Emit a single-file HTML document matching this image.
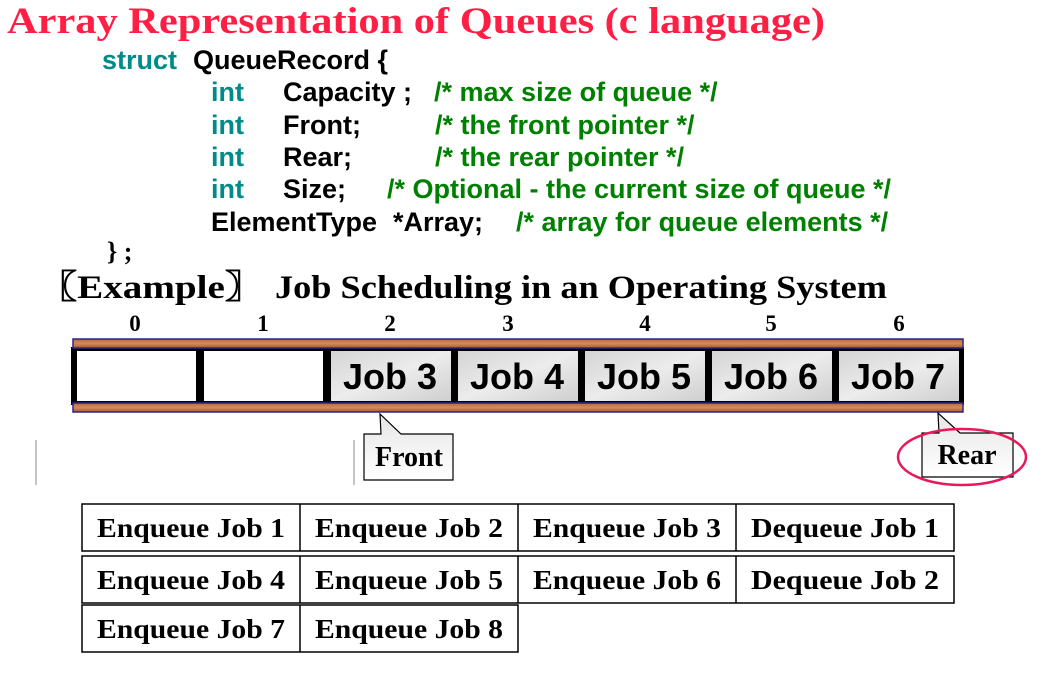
<!DOCTYPE html>
<html><head><meta charset="utf-8"><style>
html,body{margin:0;padding:0;background:#fff;}
svg{display:block}
.s{font-family:"Liberation Sans",Arial,sans-serif;font-weight:bold;}
.r{font-family:"Liberation Serif",serif;font-weight:bold}
.t{fill:#008b8b}.g{fill:#008000}
</style></head><body>
<svg width="1048" height="688" viewBox="0 0 1048 688" xmlns="http://www.w3.org/2000/svg">
<defs>
<linearGradient id="wood" x1="0" y1="0" x2="0" y2="1">
<stop offset="0" stop-color="#b8653a"/><stop offset="0.5" stop-color="#d98a5a"/><stop offset="1" stop-color="#a85530"/></linearGradient>
<linearGradient id="marb" x1="0" y1="0" x2="1" y2="1">
<stop offset="0" stop-color="#d4d4d4"/><stop offset="0.5" stop-color="#ececec"/><stop offset="1" stop-color="#cfcfcf"/></linearGradient>
<linearGradient id="call" x1="0" y1="0" x2="0" y2="1">
<stop offset="0" stop-color="#e6e6e6"/><stop offset="1" stop-color="#ffffff"/></linearGradient>
</defs>
<text x="7" y="33" class="r" font-size="37" fill="#ff1f44" textLength="818" lengthAdjust="spacingAndGlyphs">Array Representation of Queues (c language)</text>
<g class="s" style="font-size:27px">
<text x="102" y="69" class="t">struct</text><text x="193" y="69">QueueRecord {</text>
<text x="211" y="101" class="t">int</text><text x="283" y="101">Capacity ;</text><text x="434" y="101" class="g">/* max size of queue */</text>
<text x="211" y="134" class="t">int</text><text x="283" y="134">Front;</text><text x="435" y="134" class="g">/* the front pointer */</text>
<text x="211" y="166" class="t">int</text><text x="283" y="166">Rear;</text><text x="435" y="166" class="g">/* the rear pointer */</text>
<text x="211" y="198" class="t">int</text><text x="283" y="198">Size;</text><text x="387" y="198" class="g">/* Optional - the current size of queue */</text>
<text x="211" y="231">ElementType</text><text x="393" y="231">*Array;</text><text x="516" y="231" class="g">/* array for queue elements */</text>
</g>
<text x="107" y="260" class="r" font-size="26">} ;</text>
<text x="38" y="298" class="r" font-size="33" textLength="226" lengthAdjust="spacingAndGlyphs">〖Example〗</text>
<text x="275" y="298" class="r" font-size="33" textLength="612" lengthAdjust="spacingAndGlyphs">Job Scheduling in an Operating System</text>
<g class="r" font-size="23" text-anchor="middle">
<text x="135" y="331">0</text><text x="263" y="331">1</text><text x="390" y="331">2</text><text x="508" y="331">3</text><text x="645" y="331">4</text><text x="771" y="331">5</text><text x="899" y="331">6</text>
</g>
<rect x="71" y="347" width="893" height="58" fill="#000"/>
<rect x="77" y="351" width="119" height="50" fill="#fff"/>
<rect x="204" y="351" width="119" height="50" fill="#fff"/>
<g fill="url(#marb)">
<rect x="331" y="351" width="120" height="50"/><rect x="458" y="351" width="120" height="50"/><rect x="585" y="351" width="120" height="50"/><rect x="712" y="351" width="120" height="50"/><rect x="839" y="351" width="120" height="50"/>
</g>
<g class="s" style="font-size:36px" text-anchor="middle">
<text x="390" y="389">Job 3</text><text x="517" y="389">Job 4</text><text x="644" y="389">Job 5</text><text x="771" y="389">Job 6</text><text x="898" y="389">Job 7</text>
</g>
<rect x="73" y="339" width="890" height="9" fill="url(#wood)" stroke="#2a2a80" stroke-width="1.5"/>
<rect x="73" y="403" width="890" height="9" fill="url(#wood)" stroke="#2a2a80" stroke-width="1.5"/>
<line x1="354" y1="440" x2="354" y2="485" stroke="#888" stroke-width="1"/>
<line x1="36" y1="440" x2="36" y2="485" stroke="#888" stroke-width="1"/>
<path d="M364 434 H381 L380 414 L401 434 H453 V480 H364 Z" fill="url(#call)" stroke="#000" stroke-width="1.2"/>
<text x="409" y="466" class="r" font-size="28" text-anchor="middle">Front</text>
<path d="M922 433 H939 L938 413 L960 433 H1013 V477 H922 Z" fill="url(#call)" stroke="#000" stroke-width="1.2"/>
<text x="967" y="464" class="r" font-size="28" text-anchor="middle">Rear</text>
<ellipse cx="962" cy="457" rx="64" ry="28" fill="none" stroke="#e8195a" stroke-width="2.5"/>
<g fill="none" stroke="#000" stroke-width="1.5">
<rect x="82" y="504" width="872" height="47"/>
<rect x="82" y="556" width="872" height="47"/>
<rect x="82" y="605" width="436" height="47"/>
<line x1="300" y1="504" x2="300" y2="551"/><line x1="518" y1="504" x2="518" y2="551"/><line x1="736" y1="504" x2="736" y2="551"/>
<line x1="300" y1="556" x2="300" y2="603"/><line x1="518" y1="556" x2="518" y2="603"/><line x1="736" y1="556" x2="736" y2="603"/>
<line x1="300" y1="605" x2="300" y2="652"/>
</g>
<g class="r" font-size="27" text-anchor="middle">
<text x="191" y="537" textLength="188" lengthAdjust="spacingAndGlyphs">Enqueue Job 1</text><text x="409" y="537" textLength="188" lengthAdjust="spacingAndGlyphs">Enqueue Job 2</text><text x="627" y="537" textLength="188" lengthAdjust="spacingAndGlyphs">Enqueue Job 3</text><text x="845" y="537" textLength="188" lengthAdjust="spacingAndGlyphs">Dequeue Job 1</text>
<text x="191" y="589" textLength="188" lengthAdjust="spacingAndGlyphs">Enqueue Job 4</text><text x="409" y="589" textLength="188" lengthAdjust="spacingAndGlyphs">Enqueue Job 5</text><text x="627" y="589" textLength="188" lengthAdjust="spacingAndGlyphs">Enqueue Job 6</text><text x="845" y="589" textLength="188" lengthAdjust="spacingAndGlyphs">Dequeue Job 2</text>
<text x="191" y="638" textLength="188" lengthAdjust="spacingAndGlyphs">Enqueue Job 7</text><text x="409" y="638" textLength="188" lengthAdjust="spacingAndGlyphs">Enqueue Job 8</text>
</g>
</svg>
</body></html>
